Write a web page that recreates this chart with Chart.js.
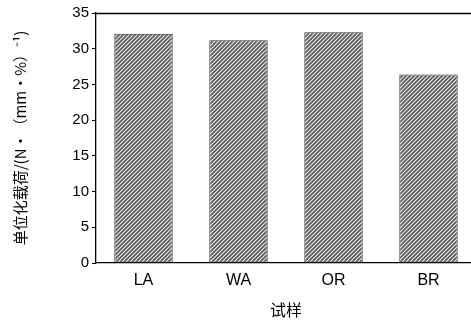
<!DOCTYPE html>
<html>
<head>
<meta charset="utf-8">
<script src="https://cdn.jsdelivr.net/npm/chart.js@4"></script>
<style>
html,body{margin:0;padding:0;background:#fff;overflow:hidden;}
#wrap{width:480px;height:322px;position:relative;}
</style>
</head>
<body>
<div id="wrap"><canvas id="c" width="480" height="322"></canvas></div>
<script>
const categories = ['LA', 'WA', 'OR', 'BR'];
const loadValues = [32.1, 31.2, 32.3, 26.4];
const yTicks = [0, 5, 10, 15, 20, 25, 30, 35];
const yTitle = '单位化载荷/(N·（mm·%）⁻¹)';
const xTitle = '试样';

function makePattern() {
  const s = 4;
  const p = document.createElement('canvas');
  p.width = s; p.height = s;
  const g = p.getContext('2d');
  g.fillStyle = '#5a5a5a';
  g.fillRect(0, 0, s, s);
  g.strokeStyle = '#f0f0f0';
  g.lineWidth = 1.1;
  g.beginPath();
  g.moveTo(-1, s + 1); g.lineTo(s + 1, -1);
  g.moveTo(-1, 1); g.lineTo(1, -1);
  g.moveTo(s - 1, s + 1); g.lineTo(s + 1, s - 1);
  g.stroke();
  return document.getElementById('c').getContext('2d').createPattern(p, 'repeat');
}

const topBorder = {
  id: 'topBorder',
  afterDraw(chart) {
    const {ctx, chartArea} = chart;
    ctx.save();
    ctx.strokeStyle = '#000';
    ctx.lineWidth = 1.3;
    ctx.beginPath();
    ctx.moveTo(chartArea.left, chartArea.top + 0.5);
    ctx.lineTo(chartArea.right + 10, chartArea.top + 0.5);
    ctx.stroke();
    ctx.restore();
  }
};

new Chart(document.getElementById('c'), {
  type: 'bar',
  data: {
    labels: categories,
    datasets: [{
      data: loadValues,
      backgroundColor: makePattern(),
      borderColor: '#333',
      borderWidth: 1,
      borderSkipped: false,
      barPercentage: 0.615,
      categoryPercentage: 1
    }]
  },
  options: {
    responsive: false,
    animation: false,
    events: [],
    layout: {padding: {left: 0, top: 13, right: 4, bottom: 0}},
    plugins: {legend: {display: false}, tooltip: {enabled: false}},
    scales: {
      x: {
        afterFit(s) { s.height = 59; },
        grid: {display: true, drawOnChartArea: false, drawTicks: false},
        border: {display: true, color: '#000', width: 1.3},
        ticks: {color: '#000', padding: 8, font: {family: 'Liberation Sans, Arial, sans-serif', size: 16}},
        title: {display: true, text: xTitle, color: '#000', padding: {top: 0, bottom: 2},
          font: {family: '"Noto Sans CJK SC", sans-serif', size: 16}}
      },
      y: {
        min: 0, max: 35,
        afterFit(s) { s.width = 96; },
        afterBuildTicks(s) { s.ticks = yTicks.map(v => ({value: v})); },
        grid: {display: true, drawOnChartArea: false, drawTicks: true, tickLength: 4, color: '#000'},
        border: {display: true, color: '#000', width: 1.3},
        ticks: {color: '#000', padding: 3, font: {family: 'Liberation Sans, Arial, sans-serif', size: 15}},
        title: {display: true, text: yTitle, color: '#000', padding: {top: 11, bottom: 0},
          font: {family: '"Noto Sans CJK SC", serif', size: 15}}
      }
    }
  },
  plugins: [topBorder]
});
</script>
</body>
</html>
